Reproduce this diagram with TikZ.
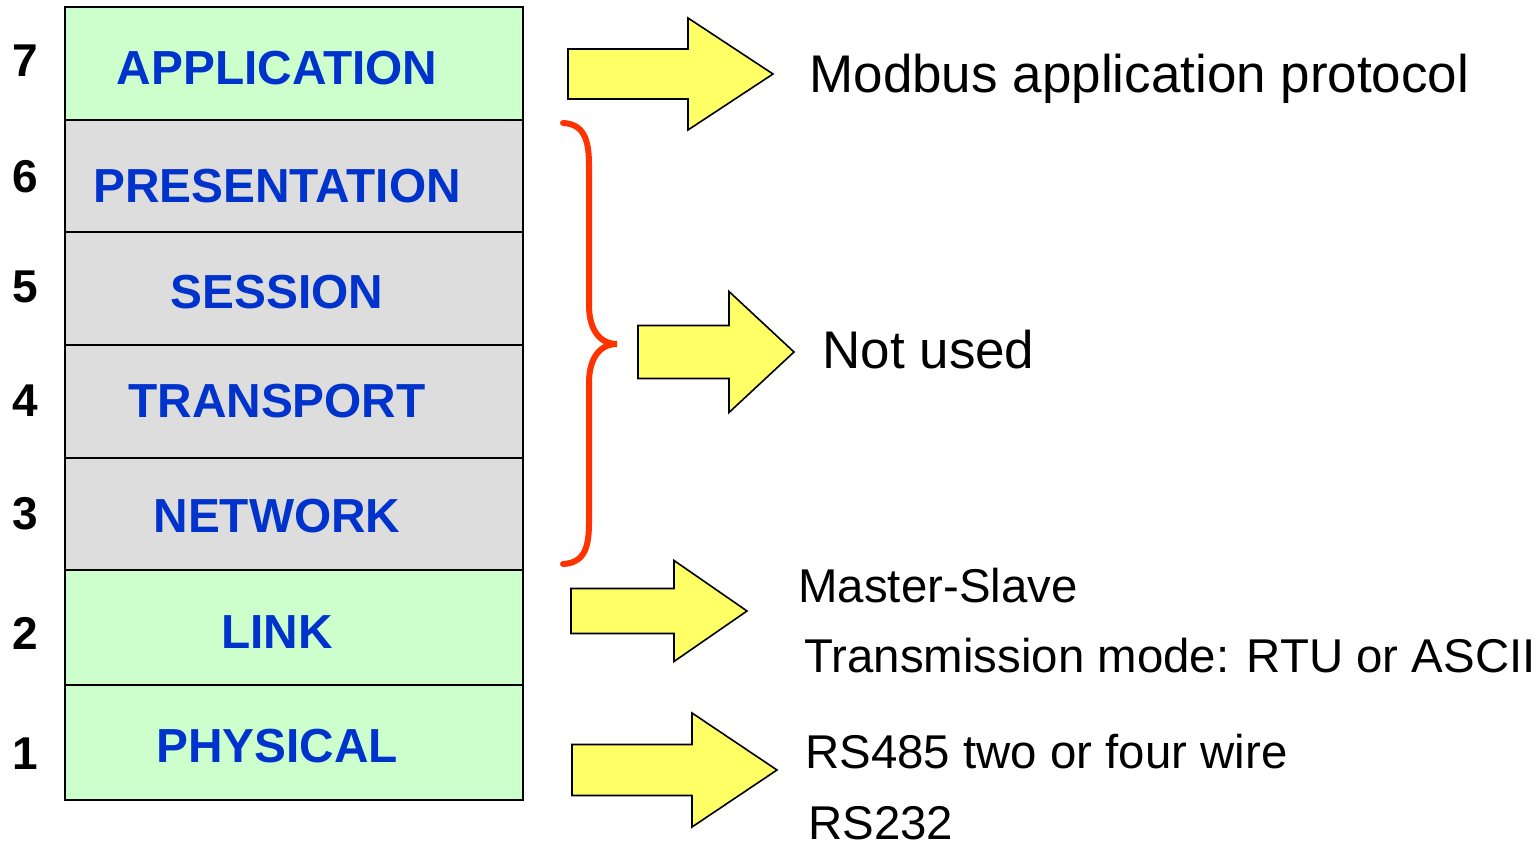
\documentclass[tikz,border=0pt]{standalone}
\usepackage{fontspec}
\setmainfont{Liberation Sans}
\usetikzlibrary{positioning}

\definecolor{layergreen}{HTML}{CCFFCC}
\definecolor{layergray}{HTML}{DDDDDD}
\definecolor{layerblue}{HTML}{0033CC}
\definecolor{arrowyellow}{HTML}{FFFF66}
\definecolor{bracered}{HTML}{FF3300}

% block arrow: left x, head base x, tip x, middle y, half shaft, half head
\newcommand{\fatarrow}[6]{%
  \draw[fatarrow] (#1,{#4-#5}) -- (#2,{#4-#5}) -- (#2,{#4-#6}) -- (#3,#4)
    -- (#2,{#4+#6}) -- (#2,{#4+#5}) -- (#1,{#4+#5}) -- cycle;}

\begin{document}
\begin{tikzpicture}[x=0.5pt,y=-0.5pt,
    layerbox/.style={draw=black, line width=1pt},
    layername/.style={text=layerblue, font=\fontsize{23.9}{28}\selectfont\bfseries, anchor=base, inner sep=0pt},
    layernum/.style={font=\fontsize{23}{28}\selectfont\bfseries, anchor=base, inner sep=0pt},
    fatarrow/.style={draw=black, fill=arrowyellow, line width=0.8pt, line join=miter},
    bigtext/.style={font=\fontsize{26.5}{32}\selectfont, anchor=base west, inner sep=0pt},
    note/.style={font=\fontsize{23.7}{28}\selectfont, anchor=base west, inner sep=0pt}]
  \useasboundingbox (0,0) rectangle (1539,845);

  % the seven layers
  \foreach \top/\bot/\col in {7/120/layergreen, 120/232/layergray, 232/345/layergray,
      345/458/layergray, 458/570/layergray, 570/685/layergreen, 685/800/layergreen}
    \draw[layerbox, fill=\col] (65,\top) rectangle (523,\bot);

  \node[layername] (app) at (277,85) {APPLICATION};
  \node[layername] (pres) at (277,203) {PRESENTATION};
  \node[layername] (sess) at (277,309) {SESSION};
  \node[layername] (trans) at (277,418) {TRANSPORT};
  \node[layername] (net) at (277,532) {NETWORK};
  \node[layername] (link) at (277,648) {LINK};
  \node[layername] (phys) at (277,762) {PHYSICAL};

  \foreach \n/\y in {7/77, 6/193, 5/303, 4/417, 3/530, 2/649, 1/769}
    \node[layernum] (num\n) at (25,\y) {\n};

  % brace over layers 3 to 6
  \draw[bracered, line width=3pt, line cap=round]
    (563,123) .. controls (584,124) and (589,140) .. (589,165) -- (589,305)
    .. controls (589,330) and (600,344) .. (617,344)
    .. controls (600,344) and (589,358) .. (589,383) -- (589,523)
    .. controls (589,548) and (584,563) .. (563,564);

  \fatarrow{568}{688}{773}{74}{25}{56}
  \fatarrow{638}{729}{794}{352}{26.5}{60.5}
  \fatarrow{571}{674}{747}{611}{22.5}{50.5}
  \fatarrow{572}{692}{777}{770}{25.5}{57}

  \node[bigtext] (modbus) at (809,93) {Modbus application protocol};
  \node[bigtext] (unused) at (822,369) {Not used};
  \node[note] (master) at (798,603) {Master-Slave};
  \node[note] (mode) at (804,672) {Transmission mode: RTU or ASCII};
  \node[note] (rs485) at (805,768) {RS485 two or four wire};
  \node[note] (rs232) at (808,839) {RS232};
\end{tikzpicture}
\end{document}
